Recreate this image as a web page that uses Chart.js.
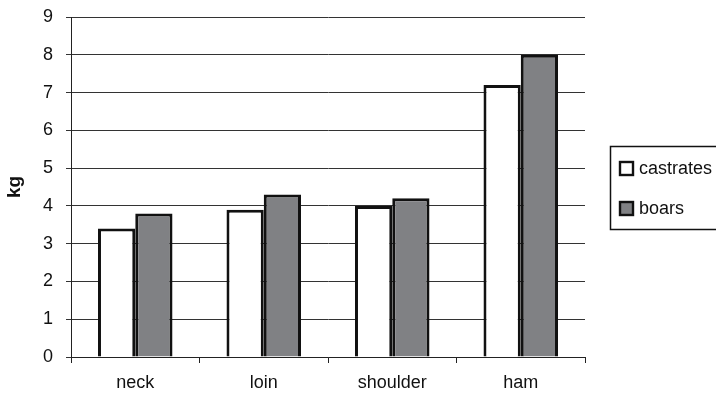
<!DOCTYPE html>
<html>
<head>
<meta charset="utf-8">
<script src="https://cdn.jsdelivr.net/npm/chart.js@4/dist/chart.umd.min.js"></script>
<style>
  html, body { margin: 0; padding: 0; background: #fff; }
  #wrap { width: 716px; height: 394px; position: relative; }
</style>
</head>
<body>
<div id="wrap"><canvas id="c" width="716" height="394"></canvas></div>
<script>
const categories = ['neck', 'loin', 'shoulder', 'ham'];
const castrates = [3.4, 3.9, 4.0, 7.2];
const boars = [3.8, 4.3, 4.2, 8.0];
const seriesNames = ['castrates', 'boars'];
const yTicks = [0, 1, 2, 3, 4, 5, 6, 7, 8, 9];

const FONT = 'Liberation Sans, Arial, sans-serif';

// Framed legend on the right, built from the dataset labels and colours
const boxedLegend = {
  id: 'boxedLegend',
  afterDraw(chart) {
    const ctx = chart.ctx;
    const x = 610.5, y = 146.5, w = 120, h = 83;
    ctx.save();
    ctx.strokeStyle = '#111';
    ctx.lineWidth = 1.5;
    ctx.strokeRect(x, y, w, h);
    ctx.font = '18px ' + FONT;
    ctx.textBaseline = 'middle';
    ctx.textAlign = 'left';
    const rows = [168, 208];
    chart.data.datasets.forEach((ds, i) => {
      const cy = rows[i];
      ctx.fillStyle = ds.backgroundColor;
      ctx.fillRect(619, cy - 7, 15, 15);
      ctx.strokeStyle = '#111';
      ctx.lineWidth = 2.4;
      ctx.strokeRect(620, cy - 6, 13, 13);
      ctx.fillStyle = '#111';
      ctx.fillText(ds.label, 639, cy + 1);
    });
    ctx.restore();
  }
};

new Chart(document.getElementById('c'), {
  type: 'bar',
  data: {
    labels: categories,
    datasets: [
      { label: seriesNames[0], data: castrates, backgroundColor: '#ffffff',
        borderColor: '#111111', borderWidth: 3 },
      { label: seriesNames[1], data: boars, backgroundColor: '#808184',
        borderColor: '#111111', borderWidth: 3 }
    ]
  },
  options: {
    responsive: false,
    animation: false,
    devicePixelRatio: 1,
    layout: { padding: { left: 0, right: 131, top: 17, bottom: 0 } },
    datasets: { bar: { categoryPercentage: 0.58, barPercentage: 1.0 } },
    plugins: {
      legend: { display: false },
      tooltip: { enabled: false }
    },
    scales: {
      x: {
        grid: { drawOnChartArea: false, drawTicks: true, tickLength: 6,
                color: '#222', lineWidth: 1 },
        border: { color: '#222', width: 1 },
        ticks: { color: '#111', font: { family: FONT, size: 18 }, padding: 9 },
        afterFit(scale) { scale.height = 37; scale.paddingLeft = 0; scale.paddingRight = 0; }
      },
      y: {
        min: 0, max: 9,
        afterBuildTicks(scale) { scale.ticks = yTicks.map(v => ({ value: v })); },
        grid: { color: '#333', lineWidth: 1, tickLength: 5 },
        border: { color: '#222', width: 1 },
        ticks: { color: '#111', font: { family: FONT, size: 18 }, padding: 13 },
        title: { display: true, text: 'kg', color: '#111',
                 font: { family: FONT, size: 19, weight: 'bold' },
                 padding: { top: 3, bottom: 0 } },
        afterFit(scale) { scale.width = 71; scale.paddingTop = 0; scale.paddingBottom = 0; }
      }
    }
  },
  plugins: [boxedLegend]
});
</script>
</body>
</html>
